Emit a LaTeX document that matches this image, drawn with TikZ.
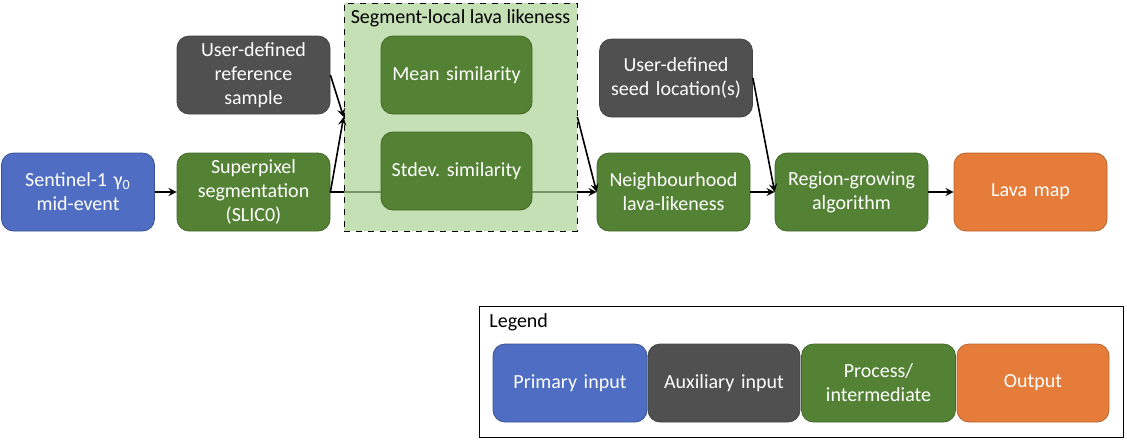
\documentclass[tikz,border=0pt]{standalone}
\usepackage{fontspec}
\setmainfont{Carlito}
\frenchspacing
\definecolor{primblue}{HTML}{4F6EC3}
\definecolor{auxgrey}{HTML}{505050}
\definecolor{procgreen}{HTML}{548235}
\definecolor{outorange}{HTML}{E67C3A}
\definecolor{seggreen}{HTML}{ACD394}

\begin{document}
\begin{tikzpicture}[x=0.5pt,y=-0.5pt,>=stealth,
  box/.style={rounded corners=6pt,minimum width=76.5pt,minimum height=39pt,
    text width=72pt,align=center,text=white,inner sep=0pt,
    font=\fontsize{10}{12}\selectfont},
  primary/.style={box,fill=primblue,draw=primblue!75!black},
  auxiliary/.style={box,fill=auxgrey,draw=auxgrey!85!black},
  process/.style={box,fill=procgreen,draw=procgreen!80!black},
  output/.style={box,fill=outorange,draw=outorange!80!black},
  arr/.style={->,thick}]

\useasboundingbox (0,0) rectangle (1127,440);

% main chain
\node[primary] (sentinel) at (78,192) {Sentinel-1 γ\textsubscript{0}\\mid-event};
\node[process] (superpixel) at (253.5,192) {Superpixel\\segmentation\\(SLIC0)};
\node[auxiliary] (refsample) at (253.5,75) {User-defined\\reference\\sample};
\node[process] (neighbour) at (673.5,192) {Neighbourhood\\lava-likeness};
\node[auxiliary] (seedloc) at (676,78) {User-defined\\seed location(s)};
\node[process] (regiongrow) at (851.5,192) {Region-growing\\algorithm};
\node[output] (lavamap) at (1030.5,192) {Lava map};

\draw[arr] (superpixel.east) -- (neighbour.west);

% segment-local group
\node[draw,dashed,fill=seggreen,fill opacity=0.7,minimum width=116.5pt,
  minimum height=114pt,inner sep=0pt] (seglocal) at (460.5,117) {};
\node[font=\fontsize{10}{12}\selectfont] (segtitle) at (460.5,18) {Segment-local lava likeness};
\node[process,minimum width=75.5pt] (meansim) at (456.5,75) {Mean similarity};
\node[process,minimum width=75.5pt] (stdevsim) at (456.5,171) {Stdev. similarity};

\draw[arr] (sentinel.east) -- (superpixel.west);
\draw[arr] (refsample.east) -- (seglocal.west);
\draw[arr] (superpixel.east) -- (seglocal.west);
\draw[arr] (seglocal.east) -- (neighbour.west);
\draw[arr] (neighbour.east) -- (regiongrow.west);
\draw[arr] (seedloc.east) -- (regiongrow.west);
\draw[arr] (regiongrow.east) -- (lavamap.west);

% legend
\node[draw,minimum width=322pt,minimum height=65.5pt,inner sep=0pt] (legend) at (801,371.5) {};
\node[anchor=west,font=\fontsize{10}{12}\selectfont,inner sep=0pt] (legendtitle) at (489,322) {Legend};
\node[primary,minimum width=77pt] (legprim) at (570,383) {Primary input};
\node[auxiliary,minimum width=76pt] (legaux) at (724,383) {Auxiliary input};
\node[process,minimum width=77pt] (legproc) at (878.5,383) {Process/\\intermediate};
\node[output,minimum width=76pt] (legout) at (1033,383) {Output};

\end{tikzpicture}
\end{document}
